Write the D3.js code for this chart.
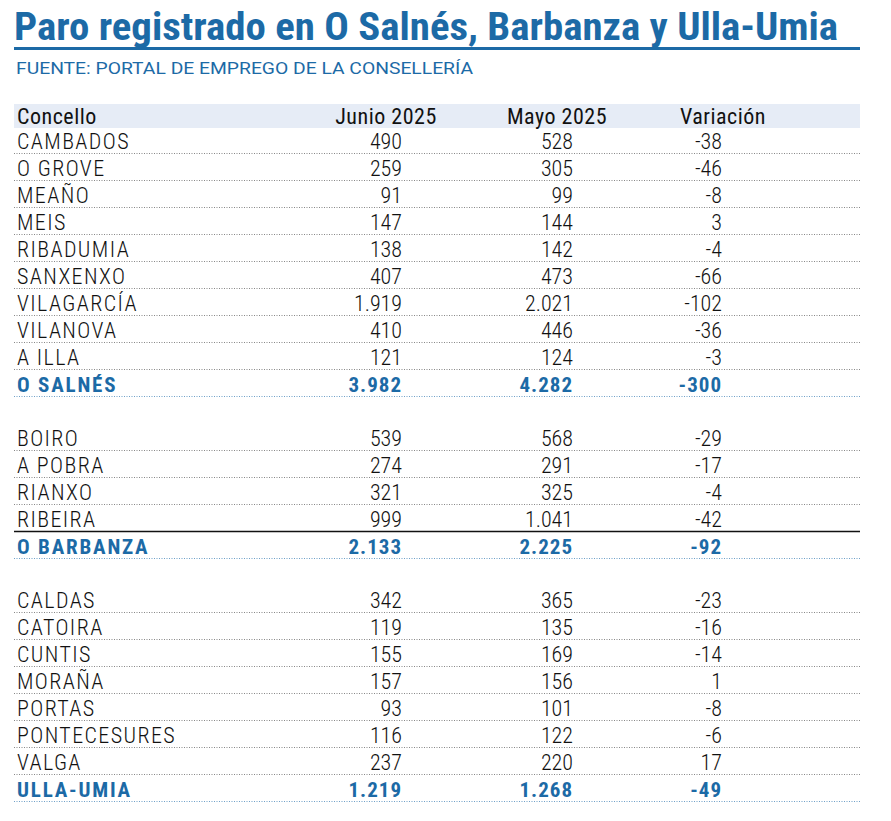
<!DOCTYPE html>
<html><head><meta charset="utf-8">
<script src="https://cdn.jsdelivr.net/npm/d3@7"></script>
<style>body{margin:0;background:#fff}svg{display:block}</style>
</head><body>
<script>
const title = "Paro registrado en O Salnés, Barbanza y Ulla-Umia";
const subtitle = "FUENTE: PORTAL DE EMPREGO DE LA CONSELLERÍA";
const headers = ["Concello", "Junio 2025", "Mayo 2025", "Variación"];
const concellos = ["CAMBADOS","O GROVE","MEAÑO","MEIS","RIBADUMIA","SANXENXO","VILAGARCÍA","VILANOVA","A ILLA","O SALNÉS","",
  "BOIRO","A POBRA","RIANXO","RIBEIRA","O BARBANZA","",
  "CALDAS","CATOIRA","CUNTIS","MORAÑA","PORTAS","PONTECESURES","VALGA","ULLA-UMIA"];
const junio = ["490","259","91","147","138","407","1.919","410","121","3.982","",
  "539","274","321","999","2.133","",
  "342","119","155","157","93","116","237","1.219"];
const mayo = ["528","305","99","144","142","473","2.021","446","124","4.282","",
  "568","291","325","1.041","2.225","",
  "365","135","169","156","101","122","220","1.268"];
const variacion = ["-38","-46","-8","3","-4","-66","-102","-36","-3","-300","",
  "-29","-17","-4","-42","-92","",
  "-23","-16","-14","1","-8","-6","17","-49"];
const totals = ["O SALNÉS","O BARBANZA","ULLA-UMIA"];

const W=891,H=821, blue="#1c6aa6";
const F="'Roboto Condensed','Liberation Sans Narrow','Arial Narrow',Roboto,sans-serif";
const svg=d3.select("body").append("svg").attr("width",W).attr("height",H);

svg.append("text").attr("x",14).attr("y",40).text(title)
  .attr("font-family",F).attr("font-weight",700).attr("font-size",38).attr("fill",blue)
  .attr("textLength",824).attr("lengthAdjust","spacingAndGlyphs");
svg.append("rect").attr("x",14).attr("y",47).attr("width",846).attr("height",3).attr("fill",blue);
svg.append("text").attr("x",16).attr("y",74).text(subtitle)
  .attr("font-family","Roboto,sans-serif").attr("font-size",16).attr("fill",blue).attr("font-weight",400)
  .attr("textLength",457).attr("lengthAdjust","spacingAndGlyphs");

svg.append("rect").attr("x",14).attr("y",104).attr("width",846).attr("height",24).attr("fill","#e6ecf6");
const hx=[17,386,557,723], ha=["start","middle","middle","middle"];
headers.forEach((h,i)=>svg.append("text").attr("x",hx[i]).attr("y",124).text(h)
  .attr("text-anchor",ha[i]).attr("font-family",F).attr("font-size",22).attr("fill","#111")
  .attr("letter-spacing",0.5));

const y=d3.scaleLinear().domain([0,1]).range([149,176]);
const cols=[{v:concellos,x:17,a:"start"},{v:junio,x:402,a:"end"},{v:mayo,x:573,a:"end"},{v:variacion,x:722,a:"end"}];
concellos.forEach((c,i)=>{
  if(!c) return;
  const isT=totals.includes(c);
  cols.forEach((col,ci)=>svg.append("text").attr("x",col.x).attr("y",y(i)).text(col.v[i])
    .attr("text-anchor",col.a).attr("font-family",F).attr("font-size",isT?21:22)
    .attr("font-weight",isT?700:300).attr("fill",isT?blue:"#111")
    .attr("letter-spacing",ci===0?(isT?1.8:1.4):(isT?1:0)));
  const ly=y(i)+4.5;
  if(c==="RIBEIRA"){
    svg.append("line").attr("x1",14).attr("x2",860).attr("y1",ly).attr("y2",ly).attr("stroke","#111").attr("stroke-width",1.5);
  } else {
    svg.append("line").attr("x1",14).attr("x2",860).attr("y1",ly).attr("y2",ly)
      .attr("stroke",isT?"#6fa0c8":"#888").attr("stroke-width",1.2).attr("stroke-dasharray","1,1.5");
  }
});
</script>
</body></html>
